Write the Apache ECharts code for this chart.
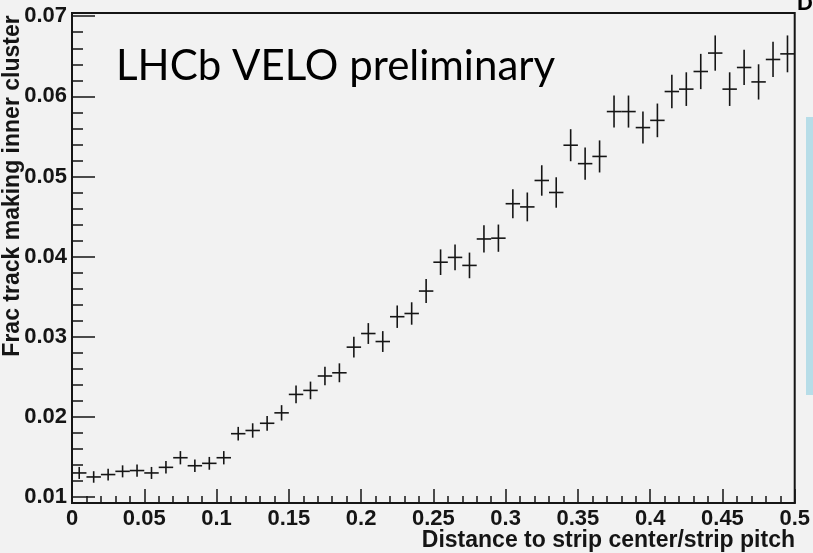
<!DOCTYPE html>
<html>
<head>
<meta charset="utf-8">
<script src="https://cdn.jsdelivr.net/npm/echarts@6/dist/echarts.min.js"></script>
<style>
html,body{margin:0;padding:0;background:#f2f2f2;}
#chart{width:813px;height:553px;}
</style>
</head>
<body>
<div id="chart"></div>
<script>
// bin centers (distance to strip center / strip pitch)
const xCenters = [
  0.005, 0.015, 0.025, 0.035, 0.045, 0.055, 0.065, 0.075, 0.085, 0.095,
  0.105, 0.115, 0.125, 0.135, 0.145, 0.155, 0.165, 0.175, 0.185, 0.195,
  0.205, 0.215, 0.225, 0.235, 0.245, 0.255, 0.265, 0.275, 0.285, 0.295,
  0.305, 0.315, 0.325, 0.335, 0.345, 0.355, 0.365, 0.375, 0.385, 0.395,
  0.405, 0.415, 0.425, 0.435, 0.445, 0.455, 0.465, 0.475, 0.485, 0.495
];
// fraction of tracks making inner cluster
const yVals = [
  0.0130, 0.0125, 0.0128, 0.0132, 0.0133, 0.0130, 0.0137, 0.0149, 0.0139, 0.0142,
  0.0149, 0.0179, 0.0183, 0.0192, 0.0205, 0.0228, 0.0233, 0.0251, 0.0255, 0.0287,
  0.0304, 0.0294, 0.0325, 0.0329, 0.0357, 0.0393, 0.0399, 0.0389, 0.0422, 0.0423,
  0.0466, 0.0462, 0.0495, 0.0480, 0.0539, 0.0516, 0.0525, 0.0581, 0.0581, 0.0561,
  0.0570, 0.0606, 0.0609, 0.0631, 0.0654, 0.0609, 0.0636, 0.0618, 0.0646, 0.0653
];
// vertical error (half length)
const yErrs = [
  0.00075, 0.00072, 0.00073, 0.00075, 0.00076, 0.00075, 0.00078, 0.00083, 0.00078, 0.00080,
  0.00083, 0.00085, 0.00090, 0.00092, 0.00096, 0.00110, 0.00110, 0.00115, 0.00118, 0.00130,
  0.00130, 0.00130, 0.00140, 0.00140, 0.00150, 0.00160, 0.00160, 0.00160, 0.00170, 0.00170,
  0.00180, 0.00180, 0.00190, 0.00190, 0.00200, 0.00200, 0.00200, 0.00200, 0.00200, 0.00200,
  0.00210, 0.00210, 0.00210, 0.00220, 0.00220, 0.00210, 0.00220, 0.00220, 0.00220, 0.00230
];
const binWidth = 0.01;
const yMajorTicks = [0.01, 0.02, 0.03, 0.04, 0.05, 0.06, 0.07];
const yMinorTicks = [
  0.012, 0.014, 0.016, 0.018, 0.022, 0.024, 0.026, 0.028,
  0.032, 0.034, 0.036, 0.038, 0.042, 0.044, 0.046, 0.048,
  0.052, 0.054, 0.056, 0.058, 0.062, 0.064, 0.066, 0.068
];
const xTitle = 'Distance to strip center/strip pitch';
const yTitle = 'Frac track making inner cluster';
const overlayText = 'LHCb VELO preliminary';

const BG = '#f2f2f2';
const INK = '#151515';
const chart = echarts.init(document.getElementById('chart'), null, {renderer: 'canvas'});
const labelFont = {fontFamily: 'Liberation Sans', fontWeight: 'bold', fontSize: 22, color: INK};

chart.setOption({
  animation: false,
  backgroundColor: BG,
  grid: {left: 72, right: 17, top: 13, bottom: 50, show: true,
         backgroundColor: BG, borderColor: INK, borderWidth: 2},
  xAxis: {
    type: 'value', min: 0, max: 0.5, interval: 0.05,
    axisLine: {show: true, lineStyle: {color: INK, width: 2}},
    axisTick: {show: true, inside: true, length: 14, lineStyle: {color: INK, width: 1.5}},
    minorTick: {show: true, splitNumber: 5, length: 7, lineStyle: {color: INK, width: 1.5}},
    splitLine: {show: false},
    axisLabel: Object.assign({margin: 5, showMinLabel: true, showMaxLabel: true}, labelFont)
  },
  yAxis: [{
    type: 'value', min: 0.00925, max: 0.0704, position: 'left',
    axisLine: {show: true, lineStyle: {color: INK, width: 2}},
    axisTick: {show: true, inside: true, length: 23, customValues: yMajorTicks,
               lineStyle: {color: INK, width: 1.5}},
    splitLine: {show: false},
    axisLabel: Object.assign({margin: 5, customValues: yMajorTicks,
               formatter: v => v.toFixed(2)}, labelFont)
  }, {
    type: 'value', min: 0.00925, max: 0.0704, position: 'left', offset: 0,
    axisLine: {show: false},
    axisTick: {show: true, inside: true, length: 11, customValues: yMinorTicks,
               lineStyle: {color: INK, width: 1.5}},
    axisLabel: {show: false},
    splitLine: {show: false}
  }],
  graphic: [
    {type: 'text', x: 116, y: 66, style: {text: overlayText, font: '42px Lato',
      fill: '#000', textAlign: 'left', textVerticalAlign: 'middle'}},
    {type: 'text', x: 13, y: 186, rotation: Math.PI / 2,
      style: {text: yTitle, font: 'bold 23px "Liberation Sans"', fill: INK,
      textAlign: 'center', textVerticalAlign: 'middle'}},
    {type: 'text', x: 795, y: 541,
      style: {text: xTitle, font: 'bold 23px "Liberation Sans"', fill: INK,
      textAlign: 'right', textVerticalAlign: 'middle'}},
    {type: 'text', x: 797, y: 4,
      style: {text: 'D', font: 'bold 22px "Liberation Sans"', fill: '#000',
      textAlign: 'left', textVerticalAlign: 'middle'}},
    {type: 'rect', shape: {x: 806, y: 117, width: 10, height: 278},
      style: {fill: '#b7dde8'}}
  ],
  series: [{
    type: 'custom',
    xAxisIndex: 0, yAxisIndex: 0,
    data: xCenters.map((x, i) => [x, yVals[i], yErrs[i]]),
    encode: {x: 0, y: 1},
    renderItem: function (params, api) {
      const x = api.value(0), y = api.value(1), e = api.value(2);
      const pl = api.coord([x - binWidth / 2, y]);
      const pr = api.coord([x + binWidth / 2, y]);
      const pt = api.coord([x, y + e]);
      const pb = api.coord([x, y - e]);
      const st = {stroke: INK, lineWidth: 1.6};
      return {type: 'group', children: [
        {type: 'line', shape: {x1: pl[0], y1: pl[1], x2: pr[0], y2: pr[1]}, style: st},
        {type: 'line', shape: {x1: pt[0], y1: pt[1], x2: pb[0], y2: pb[1]}, style: st}
      ]};
    }
  }]
});
</script>
</body>
</html>
